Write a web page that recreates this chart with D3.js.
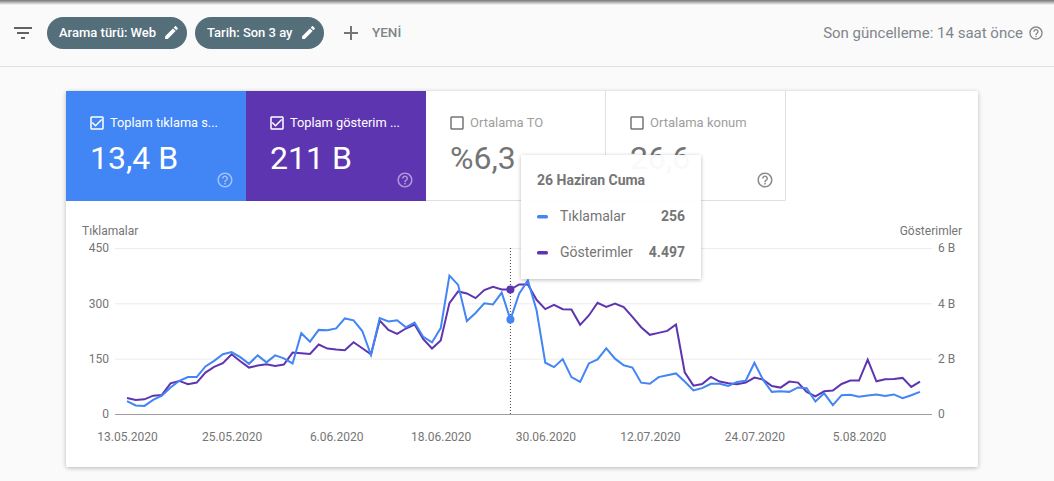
<!DOCTYPE html>
<html>
<head>
<meta charset="utf-8">
<script src="https://cdn.jsdelivr.net/npm/d3@7"></script>
<style>
    html, body { margin: 0; padding: 0; background: #fafafa; overflow: hidden; }
    svg { display: block; font-family: Roboto, sans-serif; }
</style>
</head>
<body>
<svg id="chart" width="1054" height="481"></svg>
<script>
// Values, one per day from 13.05.2020
const clicks = [35, 23, 22, 38, 50, 72, 90, 100, 100, 129, 144, 162, 168, 154, 136, 159, 140, 159, 151, 137,
    219, 196, 228, 227, 232, 259, 254, 225, 160, 260, 251, 254, 235, 248, 209, 194, 233, 375, 350, 252,
    274, 300, 297, 329, 256, 326, 362, 281, 139, 127, 149, 100, 87, 137, 148, 178, 150, 132, 126, 85,
    82, 100, 105, 110, 88, 64, 70, 82, 82, 76, 87, 90, 139, 92, 60, 62, 60, 72, 70, 34,
    56, 24, 51, 52, 47, 50, 53, 49, 53, 43, 51, 60];
const impressions = [579, 507, 531, 664, 688, 1110, 1195, 1074, 1135, 1497, 1702, 1835, 2160, 1907, 1678, 1750, 1798, 1738, 1786, 2221,
    2197, 2173, 2510, 2366, 2330, 2305, 2595, 2378, 2160, 3380, 3042, 2897, 3090, 3235, 2704, 2366, 2655, 4007, 4430, 4357,
    4188, 4478, 4599, 4502, 4497, 4683, 4683, 4128, 3790, 3947, 3790, 3778, 3223, 3561, 4019, 3874, 3995, 3862, 3512, 3138,
    2861, 2933, 3005, 3235, 1509, 1026, 1086, 1340, 1171, 1110, 1074, 1135, 1316, 1243, 1014, 954, 1171, 1135, 797, 640,
    821, 845, 1086, 1207, 1207, 1967, 1183, 1255, 1267, 1304, 978, 1171];
const dateTicks = ["13.05.2020", "25.05.2020", "6.06.2020", "18.06.2020", "30.06.2020", "12.07.2020", "24.07.2020", "5.08.2020"];
const clickTicks = [0, 150, 300, 450];
const impressionTicks = [0, 2000, 4000, 6000];
const hoverIndex = 44;

const BLUE = "#4285f4";
const PURPLE = "#5e35b1";
const GREY = "#757575";

const icons = {
    edit: "M3 17.25V21h3.75L17.81 9.94l-3.75-3.75L3 17.25zM20.71 7.04c.39-.39.39-1.02 0-1.41l-2.34-2.34c-.39-.39-1.02-.39-1.41 0l-1.83 1.83 3.75 3.75 1.83-1.83z",
    help: "M11 18h2v-2h-2v2zm1-16C6.48 2 2 6.48 2 12s4.48 10 10 10 10-4.48 10-10S17.52 2 12 2zm0 18c-4.41 0-8-3.59-8-8s3.59-8 8-8 8 3.59 8 8-3.59 8-8 8zm0-14c-2.21 0-4 1.79-4 4h2c0-1.1.9-2 2-2s2 .9 2 2c0 2-3 1.75-3 5h2c0-2.25 3-2.5 3-5 0-2.21-1.79-4-4-4z",
    box: "M19 5v14H5V5h14m0-2H5c-1.1 0-2 .9-2 2v14c0 1.1.9 2 2 2h14c1.1 0 2-.9 2-2V5c0-1.1-.9-2-2-2z",
    check: "M10 17l-5-5 1.41-1.41L10 14.17l7.59-7.59L19 8z",
    filter: "M10 18h4v-2h-4v2zM3 6v2h18V6H3zm3 7h12v-2H6v2z",
    plus: "M19 13h-6v6h-2v-6H5v-2h6V5h2v6h6v2z"
};

const svg = d3.select("#chart");

function icon(parent, name, x, y, size, color, opacity) {
    return parent.append("path")
        .attr("d", icons[name])
        .attr("transform", `translate(${x},${y}) scale(${size / 24})`)
        .attr("fill", color)
        .attr("opacity", opacity === undefined ? 1 : opacity);
}

function label(parent, str, x, y, size, color, opts) {
    const o = opts || {};
    return parent.append("text")
        .attr("x", x)
        .attr("y", y)
        .attr("text-anchor", o.anchor || "start")
        .style("font-size", size + "px")
        .style("font-weight", o.weight || 400)
        .attr("fill", color)
        .text(str);
}

const defs = svg.append("defs");
const topShade = defs.append("linearGradient").attr("id", "topShade").attr("x1", 0).attr("x2", 0).attr("y1", 0).attr("y2", 1);
topShade.append("stop").attr("offset", 0).attr("stop-color", "#777");
topShade.append("stop").attr("offset", 0.4).attr("stop-color", "#aaa");
topShade.append("stop").attr("offset", 1).attr("stop-color", "#fafafa");
const shadow = defs.append("filter").attr("id", "shadow").attr("x", "-5%").attr("y", "-5%").attr("width", "110%").attr("height", "110%");
shadow.append("feDropShadow").attr("dx", 0).attr("dy", 1).attr("stdDeviation", 2).attr("flood-color", "#000").attr("flood-opacity", 0.28);

// Header bar
svg.append("rect").attr("width", 1054).attr("height", 481).attr("fill", "#fafafa");
svg.append("rect").attr("width", 1054).attr("height", 5).attr("fill", "url(#topShade)");
svg.append("rect").attr("y", 66).attr("width", 1054).attr("height", 1).attr("fill", "#e0e0e0");

icon(svg, "filter", 11, 21, 24, "#5f6368");

const chips = [
    { text: "Arama türü: Web", x: 47, w: 140 },
    { text: "Tarih: Son 3 ay", x: 195, w: 129 }
];
chips.forEach(c => {
    svg.append("rect")
        .attr("x", c.x).attr("y", 17).attr("width", c.w).attr("height", 32).attr("rx", 16)
        .attr("fill", "#546e7a");
    label(svg, c.text, c.x + 12, 37, 13, "#fff", { weight: 500 });
    icon(svg, "edit", c.x + c.w - 24, 24, 17, "#fff");
});

icon(svg, "plus", 339, 21, 24, "#757575");
label(svg, "YENİ", 372, 37, 13.5, "#80868b", { weight: 500 });
label(svg, "Son güncelleme: 14 saat önce", 1023, 38, 15, "#80868b", { anchor: "end" });
icon(svg, "help", 1028, 25, 16, "#80868b");

// Card
svg.append("rect")
    .attr("x", 66).attr("y", 91).attr("width", 912).attr("height", 376).attr("rx", 2)
    .attr("fill", "#fff").attr("filter", "url(#shadow)");

const tiles = [
    { title: "Toplam tıklama s...", value: "13,4 B", x: 66, on: true, bg: BLUE },
    { title: "Toplam gösterim ...", value: "211 B", x: 246, on: true, bg: PURPLE },
    { title: "Ortalama TO", value: "%6,3", x: 426, on: false, bg: "#fff" },
    { title: "Ortalama konum", value: "26,6", x: 606, on: false, bg: "#fff" }
];
tiles.forEach(t => {
    const fg = t.on ? "#fff" : GREY;
    svg.append("rect")
        .attr("x", t.x).attr("y", 91).attr("width", 180).attr("height", 110)
        .attr("fill", t.bg);
    if (!t.on) {
        svg.append("path")
            .attr("d", `M${t.x + 179.5},91V200.5H${t.x}`)
            .attr("fill", "none").attr("stroke", "#e0e0e0");
    }
    icon(svg, "box", t.x + 22, 114, 18, fg);
    if (t.on) icon(svg, "check", t.x + 22, 114, 18, fg);
    label(svg, t.title, t.x + 44, 127, t.on ? 12.8 : 13, t.on ? "#fff" : "#9e9e9e", { weight: 400 });
    label(svg, t.value, t.x + 24, 169, 32, fg);
    icon(svg, "help", t.x + 150, 171, 18, fg, t.on ? 0.5 : 0.85);
});

// Chart scales
const start = new Date(2020, 4, 13);
const days = clicks.map((d, i) => d3.timeDay.offset(start, i));
const parseTick = d3.timeParse("%d.%m.%Y");
const fmtTick = d3.timeFormat("%-d.%m.%Y");

const x = d3.scaleTime().domain(d3.extent(days)).range([127, 920]);
const yLeft = d3.scaleLinear().domain([0, 450]).range([414, 248]);
const yRight = d3.scaleLinear().domain([0, 6000]).range([414, 248]);

label(svg, "Tıklamalar", 82, 235, 12, GREY);
label(svg, "Gösterimler", 962, 235, 12, GREY, { anchor: "end" });

// Grid lines
svg.append("g").selectAll("line")
    .data(clickTicks)
    .join("line")
    .attr("x1", 115).attr("x2", 932)
    .attr("y1", d => yLeft(d) + 0.5).attr("y2", d => yLeft(d) + 0.5)
    .attr("stroke", d => d === 0 ? "#9e9e9e" : "#ececec");

// Axes
const leftAxis = svg.append("g")
    .attr("transform", "translate(115,0)")
    .call(d3.axisLeft(yLeft).tickValues(clickTicks).tickSize(0).tickPadding(6));
const rightAxis = svg.append("g")
    .attr("transform", "translate(932,0)")
    .call(d3.axisRight(yRight).tickValues(impressionTicks).tickSize(0).tickPadding(6)
        .tickFormat(d => d === 0 ? "0" : (d / 1000) + " B"));
const bottomAxis = svg.append("g")
    .attr("transform", "translate(0,414)")
    .call(d3.axisBottom(x).tickValues(dateTicks.map(parseTick)).tickSize(0).tickPadding(18).tickFormat(fmtTick));
[leftAxis, rightAxis, bottomAxis].forEach(a => {
    a.select(".domain").remove();
    a.selectAll("text")
        .attr("fill", GREY)
        .style("font-family", "Roboto, sans-serif")
        .style("font-size", "12px");
});

// Lines
const lineImpressions = d3.line().x((d, i) => x(days[i])).y(d => yRight(d));
const lineClicks = d3.line().x((d, i) => x(days[i])).y(d => yLeft(d));

svg.append("path")
    .attr("d", lineImpressions(impressions))
    .attr("fill", "none").attr("stroke", PURPLE).attr("stroke-width", 2);
svg.append("path")
    .attr("d", lineClicks(clicks))
    .attr("fill", "none").attr("stroke", BLUE).attr("stroke-width", 2);

// Hover marker
const hx = x(days[hoverIndex]);
svg.append("line")
    .attr("x1", hx).attr("x2", hx).attr("y1", 248).attr("y2", 414)
    .attr("stroke", "#444").attr("stroke-dasharray", "1,2");
svg.append("circle").attr("cx", hx).attr("cy", yRight(impressions[hoverIndex])).attr("r", 4).attr("fill", PURPLE);
svg.append("circle").attr("cx", hx).attr("cy", yLeft(clicks[hoverIndex])).attr("r", 4).attr("fill", BLUE);

// Tooltip
const tip = svg.append("g");
tip.append("rect")
    .attr("x", 521).attr("y", 155).attr("width", 180).attr("height", 124)
    .attr("fill", "#fff").attr("opacity", 0.96).attr("filter", "url(#shadow)");
label(tip, "26 Haziran Cuma", 537, 185, 14, GREY, { weight: 700 });
const rows = [
    { name: "Tıklamalar", value: d3.format(",")(clicks[hoverIndex]), color: BLUE, y: 221 },
    { name: "Gösterimler", value: d3.format(",")(impressions[hoverIndex]).replace(",", "."), color: PURPLE, y: 257 }
];
rows.forEach(r => {
    tip.append("rect")
        .attr("x", 537).attr("y", r.y - 6).attr("width", 11).attr("height", 3.5).attr("rx", 1.5)
        .attr("fill", r.color);
    label(tip, r.name, 560, r.y, 14, GREY);
    label(tip, r.value, 685, r.y, 14, GREY, { anchor: "end", weight: 700 });
});
</script>
</body>
</html>
